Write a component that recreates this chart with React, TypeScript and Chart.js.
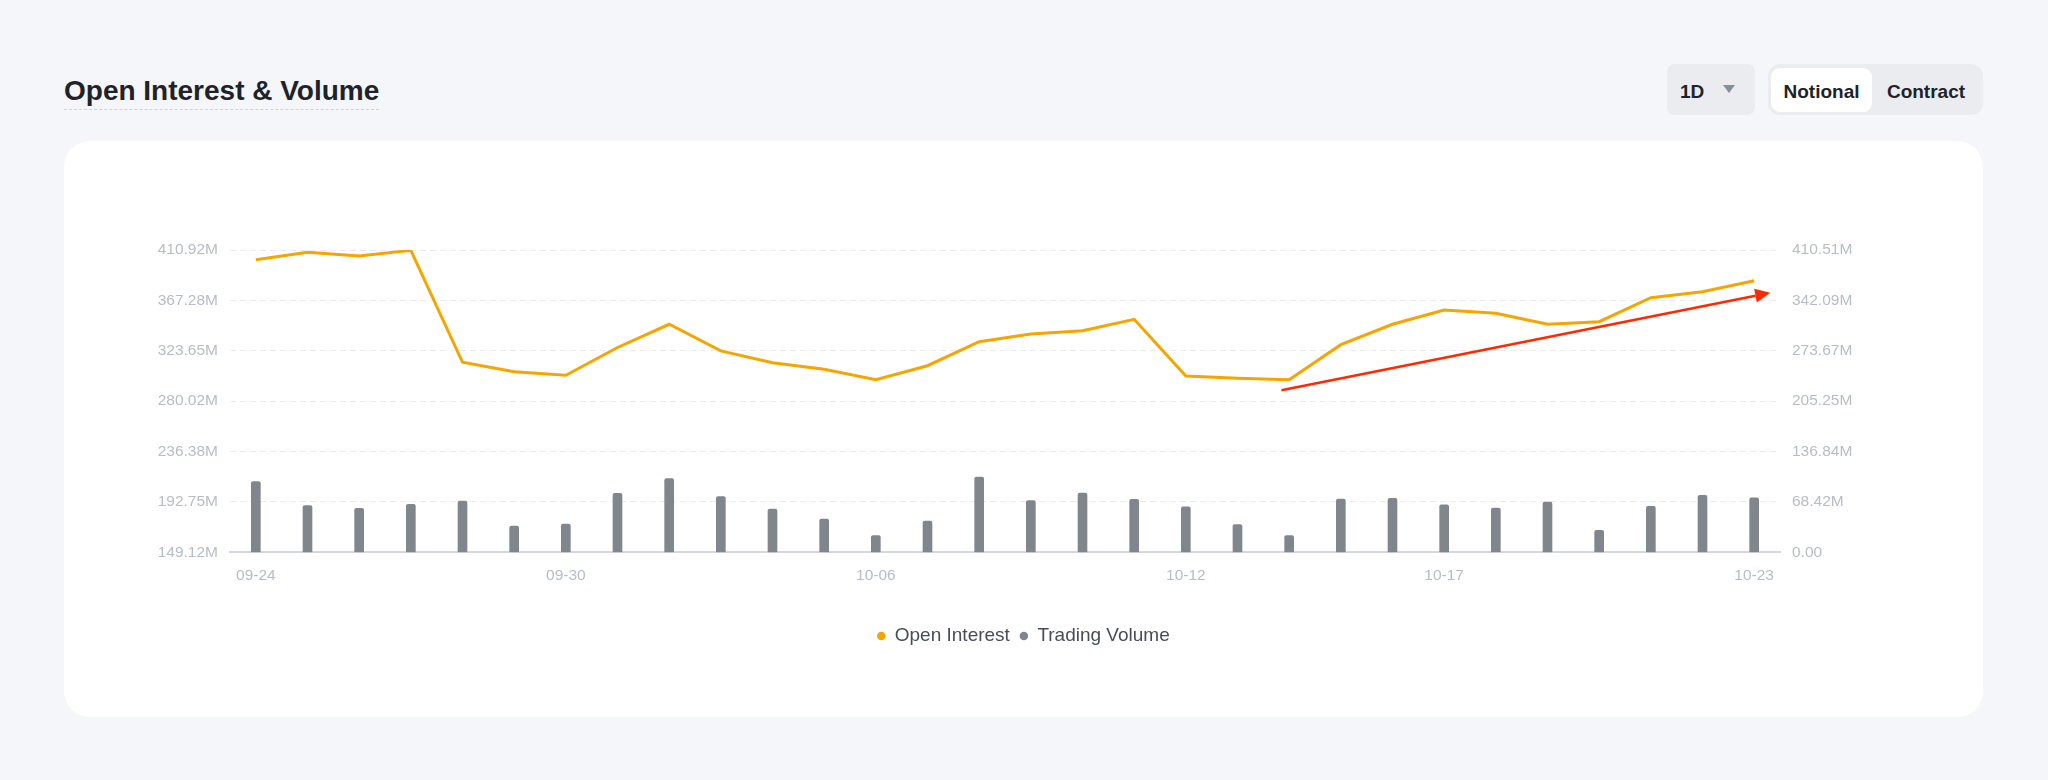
import { useEffect, useRef } from 'react';
import Chart from 'chart.js/auto';

const dates = [
  '09-24', '09-25', '09-26', '09-27', '09-28', '09-29', '09-30',
  '10-01', '10-02', '10-03', '10-04', '10-05', '10-06', '10-07',
  '10-08', '10-09', '10-10', '10-11', '10-12', '10-13', '10-14',
  '10-15', '10-16', '10-17', '10-18', '10-19', '10-20', '10-21',
  '10-22', '10-23',
];
const shownDates = ['09-24', '09-30', '10-06', '10-12', '10-17', '10-23'];

// millions (USD notional)
const openInterest = [
  402.5, 408.9, 405.7, 410.6, 313.7, 305.5, 302.4, 326.5, 346.6, 323.5,
  313.3, 307.6, 298.6, 310.7, 331.5, 338.2, 341.0, 350.9, 301.8, 299.8,
  298.6, 328.9, 346.6, 359.0, 356.1, 346.6, 348.8, 369.6, 374.8, 384.3,
];
const tradingVolume = [
  95.9, 63.3, 59.8, 65.2, 69.7, 35.7, 38.4, 80.1, 100.0, 75.5,
  58.8, 45.2, 22.6, 42.5, 102.3, 70.1, 80.5, 72.0, 61.9, 37.5,
  22.6, 72.4, 73.3, 64.6, 60.2, 68.3, 29.9, 62.5, 77.4, 74.1,
];

const leftTicks = [149.12, 192.75, 236.38, 280.02, 323.65, 367.28, 410.92];
const rightTicks = [0, 68.42, 136.84, 205.25, 273.67, 342.09, 410.51];

// trend arrow, in data units: [category index, open interest]
const arrowFrom = [19.85, 289.4];
const arrowTo = [29.31, 373.9];

const ORANGE = '#F5A500';
const GREY_BAR = '#81858C';
const TICK = '#B7BDC6';
const FONT = '"Liberation Sans", Arial, Helvetica, sans-serif';

const fmt = (v: number) => (v === 0 ? '0.00' : v.toFixed(2) + 'M');

const arrowPlugin = {
  id: 'trendArrow',
  afterDatasetsDraw(chart: any) {
    const { ctx, scales } = chart;
    const x1 = scales.x.getPixelForValue(arrowFrom[0]);
    const y1 = scales.yLeft.getPixelForValue(arrowFrom[1]);
    const x2 = scales.x.getPixelForValue(arrowTo[0]);
    const y2 = scales.yLeft.getPixelForValue(arrowTo[1]);
    const a = Math.atan2(y2 - y1, x2 - x1);
    const head = 15;
    const half = 7;
    const bx = x2 - head * Math.cos(a);
    const by = y2 - head * Math.sin(a);
    ctx.save();
    ctx.strokeStyle = '#FF2A00';
    ctx.fillStyle = '#FF2A00';
    ctx.lineWidth = 2.5;
    ctx.beginPath();
    ctx.moveTo(x1, y1);
    ctx.lineTo(bx, by);
    ctx.stroke();
    ctx.beginPath();
    ctx.moveTo(x2, y2);
    ctx.lineTo(bx - half * Math.sin(a), by + half * Math.cos(a));
    ctx.lineTo(bx + half * Math.sin(a), by - half * Math.cos(a));
    ctx.closePath();
    ctx.fill();
    ctx.restore();
  },
};

function OIChart() {
  const chartRef = useRef<HTMLCanvasElement>(null);
  const chartInstance = useRef<Chart | null>(null);

  useEffect(() => {
    if (!chartRef.current) return;
    if (chartInstance.current) chartInstance.current.destroy();
    const ctx = chartRef.current.getContext('2d');
    if (!ctx) return;

    const colors = [ORANGE, GREY_BAR];

    chartInstance.current = new Chart(ctx, {
      data: {
        labels: dates,
        datasets: [
          {
            type: 'line',
            label: 'Open Interest',
            data: openInterest,
            yAxisID: 'yLeft',
            borderColor: ORANGE,
            backgroundColor: ORANGE,
            borderWidth: 3,
            pointRadius: 0,
            tension: 0,
          },
          {
            type: 'bar',
            label: 'Trading Volume',
            data: tradingVolume,
            yAxisID: 'yRight',
            backgroundColor: GREY_BAR,
            barThickness: 9,
            borderRadius: 2,
          },
        ],
      } as any,
      options: {
        animation: false,
        responsive: true,
        maintainAspectRatio: false,
        events: [],
        layout: { padding: { top: 109, bottom: 61.5, left: 0, right: 0 } },
        font: { family: FONT },
        plugins: {
          tooltip: { enabled: false },
          legend: {
            position: 'bottom',
            labels: {
              usePointStyle: true,
              boxWidth: 8,
              boxHeight: 6,
              padding: 10,
              color: '#474D57',
              font: { family: FONT, size: 19 },
              generateLabels: (chart: any) =>
                chart.data.datasets.map((ds: any, i: number) => ({
                  text: ds.label,
                  fillStyle: colors[i],
                  strokeStyle: colors[i],
                  lineWidth: 0,
                  pointStyle: 'circle',
                  hidden: false,
                  datasetIndex: i,
                  fontColor: '#474D57',
                })),
            },
          },
        },
        scales: {
          x: {
            offset: true,
            grid: { display: false },
            border: { display: true, color: '#D5D8DC', width: 2 },
            ticks: {
              color: TICK,
              padding: 6,
              autoSkip: false,
              maxRotation: 0,
              font: { family: FONT, size: 15.5 },
              callback: (_v: any, i: number) =>
                shownDates.includes(dates[i]) ? dates[i] : '',
            },
            afterFit: (scale: any) => {
              scale.height = 64.2;
            },
          },
          yLeft: {
            position: 'left',
            min: leftTicks[0],
            max: leftTicks[leftTicks.length - 1],
            grid: { color: '#EAECEF', lineWidth: 1, drawTicks: false },
            border: { display: false, dash: [6, 4] },
            ticks: {
              color: TICK,
              padding: 12,
              font: { family: FONT, size: 15.5 },
              callback: (v: any) => fmt(Number(v)),
            },
            afterBuildTicks: (scale: any) => {
              scale.ticks = leftTicks.map(value => ({ value }));
            },
            afterFit: (scale: any) => {
              scale.width = 166;
            },
          },
          yRight: {
            position: 'right',
            min: rightTicks[0],
            max: rightTicks[rightTicks.length - 1],
            grid: { display: false, drawTicks: false },
            border: { display: false },
            ticks: {
              color: TICK,
              padding: 12,
              font: { family: FONT, size: 15.5 },
              callback: (v: any) => fmt(Number(v)),
            },
            afterBuildTicks: (scale: any) => {
              scale.ticks = rightTicks.map(value => ({ value }));
            },
            afterFit: (scale: any) => {
              scale.width = 203;
            },
          },
        },
      } as any,
      plugins: [arrowPlugin],
    });

    return () => {
      if (chartInstance.current) {
        chartInstance.current.destroy();
        chartInstance.current = null;
      }
    };
  }, []);

  return (
    <div style={{ position: 'absolute', left: 0, top: 0, width: 1919, height: 576 }}>
      <canvas ref={chartRef} />
    </div>
  );
}

export default function App() {
  useEffect(() => {
    document.body.style.margin = '0';
  }, []);

  const btnText = {
    fontFamily: FONT,
    fontWeight: 700,
    fontSize: 19,
    color: '#1E2329',
    position: 'relative' as const,
    top: 2,
  };

  return (
    <div
      style={{
        position: 'relative',
        width: 2048,
        height: 780,
        background: '#F5F6FA',
        overflow: 'hidden',
      }}
    >
      <div
        style={{
          position: 'absolute',
          left: 64,
          top: 77,
          fontFamily: FONT,
          fontWeight: 700,
          fontSize: 28,
          lineHeight: '28px',
          color: '#1E2329',
          paddingBottom: 4,
          borderBottom: '1px dashed #CFD3D8',
          whiteSpace: 'nowrap',
        }}
      >
        Open Interest &amp; Volume
      </div>

      <div
        style={{
          position: 'absolute',
          left: 1667,
          top: 64,
          width: 88,
          height: 51,
          borderRadius: 8,
          background: '#EAECEF',
          display: 'flex',
          alignItems: 'center',
          boxSizing: 'border-box',
          paddingLeft: 13,
        }}
      >
        <span style={btnText}>1D</span>
        <span
          style={{
            position: 'absolute',
            left: 56,
            top: 21,
            width: 0,
            height: 0,
            borderLeft: '6.5px solid transparent',
            borderRight: '6.5px solid transparent',
            borderTop: '8px solid #848E9C',
          }}
        />
      </div>

      <div
        style={{
          position: 'absolute',
          left: 1768,
          top: 64,
          width: 215,
          height: 51,
          borderRadius: 12,
          background: '#EAECEF',
        }}
      >
        <div
          style={{
            position: 'absolute',
            left: 3,
            top: 3.5,
            width: 101,
            height: 44,
            borderRadius: 9,
            background: '#FFFFFF',
            display: 'flex',
            alignItems: 'center',
            justifyContent: 'center',
          }}
        >
          <span style={btnText}>Notional</span>
        </div>
        <div
          style={{
            position: 'absolute',
            left: 104,
            top: 3.5,
            width: 108,
            height: 44,
            display: 'flex',
            alignItems: 'center',
            justifyContent: 'center',
          }}
        >
          <span style={btnText}>Contract</span>
        </div>
      </div>

      <div
        style={{
          position: 'absolute',
          left: 64,
          top: 141,
          width: 1919,
          height: 576,
          borderRadius: 26,
          background: '#FFFFFF',
        }}
      >
        <OIChart />
      </div>
    </div>
  );
}
